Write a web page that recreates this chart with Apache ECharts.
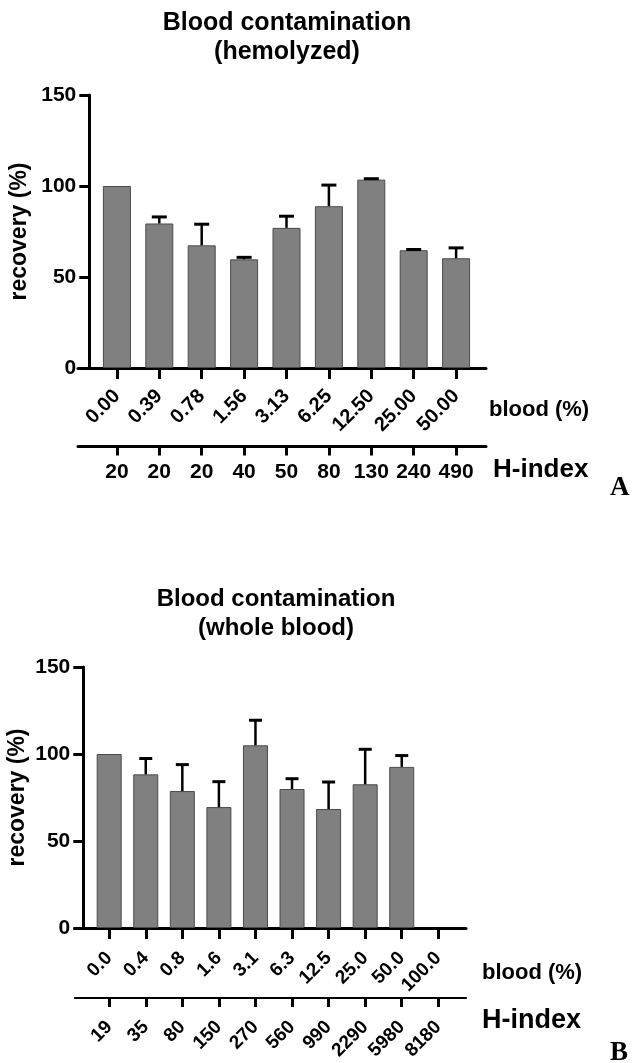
<!DOCTYPE html>
<html>
<head>
<meta charset="utf-8">
<script src="https://cdn.jsdelivr.net/npm/echarts@6/dist/echarts.min.js"></script>
<style>
html,body{margin:0;padding:0;background:#fff;}
#c{width:633px;height:1063px;}
</style>
</head>
<body>
<div id="c"></div>
<script>
// ---- Data ----
const catsA   = ['0.00','0.39','0.78','1.56','3.13','6.25','12.50','25.00','50.00'];
const hIndexA = ['20','20','20','40','50','80','130','240','490'];
const meanA   = [100, 79.4, 67.4, 59.7, 77.0, 88.9, 103.5, 64.7, 60.3];
const errA    = [0, 3.6, 11.6, 1.1, 6.4, 11.6, 0.5, 0.4, 5.7];

const catsB   = ['0.0','0.4','0.8','1.6','3.1','6.3','12.5','25.0','50.0','100.0'];
const hIndexB = ['19','35','80','150','270','560','990','2290','5980','8180'];
const meanB   = [100, 88.3, 78.7, 69.5, 105.0, 79.9, 68.4, 82.6, 92.6, null];
const errB    = [0, 9.1, 15.2, 14.6, 14.4, 5.9, 15.5, 20.1, 6.5, null];

const yTicks = [0, 50, 100, 150];

const FONT = "'Liberation Sans', Arial, sans-serif";
const chart = echarts.init(document.getElementById('c'), null, {renderer: 'canvas'});

function errData(mean, err) {
  return mean.map((m, i) => [i, m, err[i]]);
}
function errRenderer(capW) {
  return function (params, api) {
    const m = api.value(1), e = api.value(2);
    if (m == null || isNaN(m) || !e) return null;
    const p0 = api.coord([api.value(0), m]);
    const p1 = api.coord([api.value(0), m + e]);
    return {
      type: 'group',
      children: [
        {type: 'line', shape: {x1: p0[0], y1: p0[1], x2: p1[0], y2: p1[1]},
         style: {stroke: '#000', lineWidth: 2.5}},
        {type: 'line', shape: {x1: p1[0] - capW / 2, y1: p1[1], x2: p1[0] + capW / 2, y2: p1[1]},
         style: {stroke: '#000', lineWidth: 3}}
      ]
    };
  };
}

const axisBlack = {color: '#000', width: 3};

function catAxis(grid, data, offset, rotate, fs, margin, tickLen) {
  return {
    gridIndex: grid, type: 'category', data: data, position: 'bottom', offset: offset,
    boundaryGap: true,
    axisLine: {show: false},
    axisTick: {show: true, alignWithLabel: true, length: tickLen, lineStyle: {color: '#000', width: 3}},
    axisLabel: {show: true, interval: 0, rotate: rotate, margin: margin,
      color: '#000', fontFamily: FONT, fontWeight: 'bold', fontSize: fs},
    splitLine: {show: false}
  };
}
function lineAxis(grid, offset, w) {
  return {
    gridIndex: grid, type: 'value', min: 0, max: 1, position: 'bottom', offset: offset,
    axisLine: {show: true, lineStyle: {color: '#000', width: w}},
    axisTick: {show: false}, axisLabel: {show: false}, splitLine: {show: false}
  };
}
function valAxis(grid, offset, nameGap) {
  return {
    gridIndex: grid, type: 'value', min: yTicks[0], max: yTicks[yTicks.length - 1], interval: 50,
    offset: offset,
    name: 'recovery (%)', nameLocation: 'middle', nameGap: nameGap, nameRotate: 90,
    nameMoveOverlap: false,
    nameTextStyle: {color: '#000', fontFamily: FONT, fontWeight: 'bold', fontSize: 23},
    axisLine: {show: true, lineStyle: axisBlack},
    axisTick: {show: true, length: 10, lineStyle: {color: '#000', width: 3}},
    axisLabel: {color: '#000', fontFamily: FONT, fontWeight: 'bold', fontSize: 21, margin: 13},
    splitLine: {show: false}
  };
}
function hiddenY(grid) {
  return {gridIndex: grid, type: 'value', min: 0, max: 150, show: false};
}

function txt(x, y, text, size, align, serif) {
  return {type: 'text', x: x, y: y, silent: true,
    style: {text: text, fill: '#000', align: align || 'center', verticalAlign: 'middle',
      font: 'bold ' + size + 'px ' + (serif ? "'Liberation Serif', 'Times New Roman', serif" : FONT)}};
}
function grid(l, t, w, h) {
  return {left: l, top: t, width: w, height: h, containLabel: false, outerBoundsMode: 'none'};
}

const option = {
  animation: false,
  backgroundColor: '#fff',
  grid: [
    grid(95.7, 95, 381.6, 273),   // A bars
    grid(78, 95, 408, 273),       // A axis lines
    grid(90.9, 667, 365.7, 261),  // B bars
    grid(75, 667, 391, 261)       // B axis lines
  ],
  xAxis: [
    catAxis(0, catsA, 0, 45, 20, 25, 11),
    catAxis(0, hIndexA, 78.4, 0, 21, 15, 9),
    lineAxis(1, 0, 3),
    lineAxis(1, 78.4, 3),
    catAxis(2, catsB, 0, 45, 19, 27, 11),
    catAxis(2, hIndexB, 70, 45, 19, 26, 9),
    lineAxis(3, 0, 3),
    lineAxis(3, 70, 2.2)
  ],
  yAxis: [
    valAxis(0, 6.4, 58),
    hiddenY(1),
    valAxis(2, 7.6, 54),
    hiddenY(3)
  ],
  series: [
    {type: 'bar', xAxisIndex: 0, yAxisIndex: 0, data: meanA, barWidth: 28,
     itemStyle: {color: '#808080', borderColor: '#4a4a4a', borderWidth: 1}},
    {type: 'custom', xAxisIndex: 0, yAxisIndex: 0, data: errData(meanA, errA),
     renderItem: errRenderer(15), encode: {x: 0, y: 1}, z: 3},
    {type: 'bar', xAxisIndex: 4, yAxisIndex: 2, data: meanB, barWidth: 25,
     itemStyle: {color: '#808080', borderColor: '#4a4a4a', borderWidth: 1}},
    {type: 'custom', xAxisIndex: 4, yAxisIndex: 2, data: errData(meanB, errB),
     renderItem: errRenderer(13), encode: {x: 0, y: 1}, z: 3}
  ],
  graphic: [
    txt(287, 23, 'Blood contamination', 25),
    txt(287, 52, '(hemolyzed)', 25),
    txt(489, 410, 'blood (%)', 22, 'left'),
    txt(493, 470, 'H-index', 26, 'left'),
    txt(610, 488, 'A', 27, 'left', true),
    txt(276, 599, 'Blood contamination', 24),
    txt(276, 628, '(whole blood)', 24),
    txt(482, 973, 'blood (%)', 22, 'left'),
    txt(482, 1021, 'H-index', 27, 'left'),
    txt(610, 1053, 'B', 27, 'left', true)
  ]
};
chart.setOption(option);
</script>
</body>
</html>
